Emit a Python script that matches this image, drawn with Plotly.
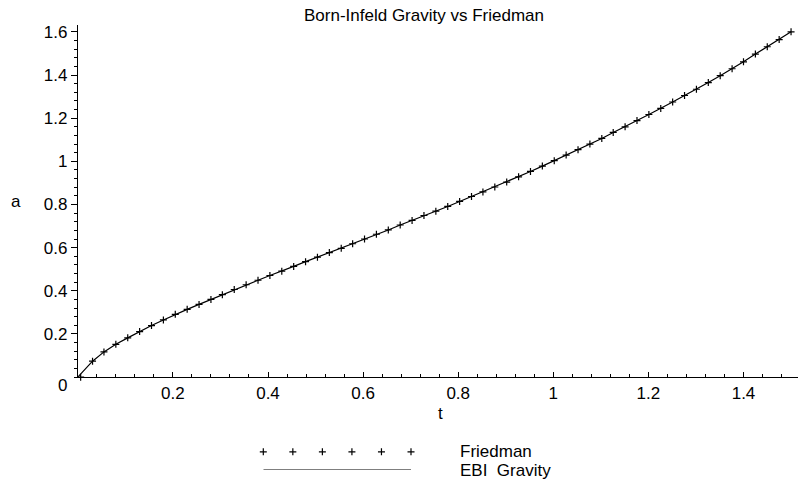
import plotly.graph_objects as go

# ---- data ----
t_friedman = [0.006, 0.031, 0.055, 0.080, 0.105, 0.130, 0.155, 0.180, 0.205, 0.230,
              0.255, 0.280, 0.304, 0.329, 0.354, 0.379, 0.404, 0.429, 0.454, 0.479,
              0.504, 0.529, 0.554, 0.578, 0.603, 0.628, 0.653, 0.678, 0.703, 0.728,
              0.753, 0.778, 0.803, 0.828, 0.852, 0.877, 0.902, 0.927, 0.952, 0.977,
              1.002, 1.027, 1.052, 1.077, 1.102, 1.126, 1.151, 1.176, 1.201, 1.226,
              1.251, 1.276, 1.301, 1.326, 1.351, 1.376, 1.400, 1.425, 1.450, 1.475, 1.500]
a_friedman = [0.000, 0.074, 0.117, 0.152, 0.182, 0.211, 0.239, 0.265, 0.291, 0.314,
              0.337, 0.360, 0.382, 0.406, 0.428, 0.449, 0.471, 0.491, 0.513, 0.535,
              0.556, 0.577, 0.597, 0.618, 0.640, 0.662, 0.682, 0.705, 0.726, 0.749,
              0.769, 0.791, 0.814, 0.837, 0.858, 0.881, 0.904, 0.928, 0.953, 0.978,
              1.003, 1.029, 1.054, 1.080, 1.106, 1.134, 1.160, 1.189, 1.217, 1.245,
              1.275, 1.305, 1.334, 1.365, 1.397, 1.429, 1.461, 1.497, 1.531, 1.564, 1.600]

t_ebi = [0.0] + t_friedman[1:]
a_ebi = [0.0] + a_friedman[1:]

x_tickvals = [0.2, 0.4, 0.6, 0.8, 1.0, 1.2, 1.4]
x_ticktext = ["0.2", "0.4", "0.6", "0.8", "1", "1.2", "1.4"]
y_tickvals = [0.2, 0.4, 0.6, 0.8, 1.0, 1.2, 1.4, 1.6]
y_ticktext = ["0.2", "0.4", "0.6", "0.8", "1", "1.2", "1.4", "1.6"]

title_text = "Born-Infeld Gravity vs Friedman"
x_label = "t"
y_label = "a"
series_names = ["Friedman", "EBI\u00a0 Gravity"]

# ---- layout helpers (pixel geometry of a 798x480 canvas) ----
W, H = 798, 480
FONT = "Liberation Sans, Arial, Helvetica, sans-serif"
FS = 17


def px(x):
    return x / W


def py(y):
    return 1 - y / H


MARKER = dict(symbol="cross-thin", size=5, line=dict(color="black", width=1.2))
LINE = dict(color="black", width=1.2)

fig = go.Figure()

# EBI Gravity curve
fig.add_trace(go.Scatter(
    x=t_ebi, y=a_ebi, mode="lines", name=series_names[1],
    line=LINE, cliponaxis=False, hoverinfo="skip"))

# Friedman points
fig.add_trace(go.Scatter(
    x=t_friedman, y=a_friedman, mode="markers", name=series_names[0],
    marker=MARKER, cliponaxis=False, hoverinfo="skip"))

# legend samples on a helper axis pair
fig.add_trace(go.Scatter(
    x=[0, 1, 2, 3, 4, 5], y=[1] * 6, mode="markers", xaxis="x2", yaxis="y2",
    marker=MARKER, cliponaxis=False, hoverinfo="skip"))
fig.add_trace(go.Scatter(
    x=[0, 5], y=[0, 0], mode="lines", xaxis="x2", yaxis="y2",
    line=LINE, cliponaxis=False, hoverinfo="skip"))

x0_px, x1_px = 77.8, 798
y0_px, y1_px = 376.7, 23
x_scale = 475.5  # px per unit
y_scale = 216.7

fig.update_layout(
    width=W, height=H,
    margin=dict(l=0, r=0, t=0, b=0),
    paper_bgcolor="white", plot_bgcolor="white",
    showlegend=False,
    hovermode=False,
    font=dict(family=FONT, size=FS, color="black"),
    xaxis=dict(
        domain=[px(x0_px), px(x1_px)],
        range=[0, (x1_px - x0_px) / x_scale],
        showline=True, linecolor="black", linewidth=1,
        showgrid=False, zeroline=False,
        ticks="inside", ticklen=5, tickcolor="black", tickwidth=1,
        tickvals=x_tickvals, ticktext=x_ticktext,
        tickfont=dict(family=FONT, size=FS, color="black"),
        minor=dict(dtick=0.04, tick0=0, ticks="inside", ticklen=3,
                   tickcolor="black", showgrid=False),
        anchor="y", fixedrange=True,
    ),
    yaxis=dict(
        domain=[py(y0_px), py(y1_px)],
        range=[0, (y0_px - y1_px) / y_scale],
        showline=True, linecolor="black", linewidth=1,
        showgrid=False, zeroline=False,
        ticks="outside", ticklen=6, tickcolor="black", tickwidth=1,
        tickvals=y_tickvals, ticktext=y_ticktext,
        tickfont=dict(family=FONT, size=FS, color="black"),
        minor=dict(dtick=0.04, tick0=0, ticks="outside", ticklen=3,
                   tickcolor="black", showgrid=False),
        anchor="x", fixedrange=True,
    ),
    xaxis2=dict(domain=[px(263.3), px(411)], range=[0, 5], visible=False,
                anchor="y2", fixedrange=True),
    yaxis2=dict(domain=[py(469.5), py(451.7)], range=[0, 1], visible=False,
                anchor="x2", fixedrange=True),
)

annotations = [
    dict(text=title_text, x=px(424), y=py(14), xanchor="center", yanchor="middle"),
    dict(text=x_label, x=px(440), y=py(413), xanchor="center", yanchor="middle"),
    dict(text=y_label, x=px(16), y=py(200), xanchor="center", yanchor="middle"),
    dict(text="0", x=px(62.5), y=py(385), xanchor="center", yanchor="middle"),
    dict(text=series_names[0], x=px(458), y=py(451.7), xanchor="left", yanchor="middle"),
    dict(text=series_names[1], x=px(458), y=py(470), xanchor="left", yanchor="middle"),
]
for a in annotations:
    a.update(xref="paper", yref="paper", showarrow=False,
             font=dict(family=FONT, size=FS, color="black"))
fig.update_layout(annotations=annotations)

fig.write_html("out.html", config={"displayModeBar": False, "staticPlot": True})
